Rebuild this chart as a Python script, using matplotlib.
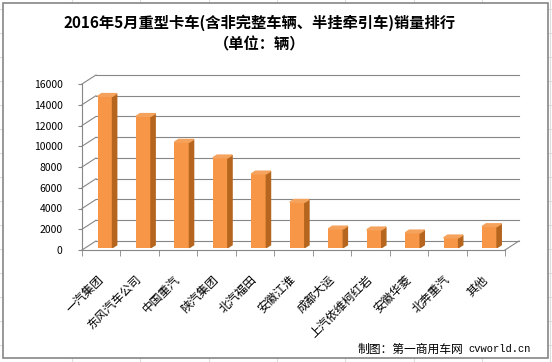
import matplotlib.pyplot as plt
from matplotlib.patches import Rectangle

plt.rcParams['font.family'] = ['Noto Sans CJK SC', 'DejaVu Sans']

companies = ['一汽集团', '东风汽车公司', '中国重汽', '陕汽集团', '北汽福田', '安徽江淮',
             '成都大运', '上汽依维柯红岩', '安徽华菱', '北奔重汽', '其他']
sales = [14580, 12650, 10160, 8650, 7100, 4370, 1800, 1710, 1420, 940, 2030]
yticks = list(range(0, 16001, 2000))

W, H = 552, 362
GRAY = '#868686'
FRONT, SIDE, TOP = '#F79646', '#B5651D', '#F5A25C'

fig = plt.figure(figsize=(W / 100, H / 100), dpi=100)

# background: spreadsheet cells + chart border
bg = fig.add_axes([0, 0, 1, 1])
bg.set_xlim(0, W)
bg.set_ylim(H, 0)
bg.axis('off')
for k in range(8):
    bg.axvline(72 + 68.3 * k, color='#dedede', lw=0.8, zorder=1)
for k in range(15):
    bg.axhline(9.3 + 24 * k, color='#dedede', lw=0.8, zorder=1)
bg.add_patch(Rectangle((2.5, 2.5), 545.5, 355, facecolor='white', edgecolor=GRAY,
                       lw=1.2, zorder=3))

bg.text(260, 23, '2016年5月重型卡车(含非完整车辆、半挂牵引车)销量排行',
        ha='center', va='center', fontsize=11, fontweight='bold', zorder=4)
bg.text(260, 44, '（单位：辆）', ha='center', va='center', fontsize=11,
        fontweight='bold', zorder=4)
bg.text(358, 349, '制图：第一商用车网', ha='left', va='center', fontsize=8.5, zorder=4)
bg.text(531, 349, 'cvworld.cn', ha='right', va='center', fontsize=7.5,
        family='Liberation Mono', zorder=4)

# main plot (front plane of the pseudo-3D box)
ax = fig.add_axes([82 / W, 1 - 250 / H, 423 / W, 166 / H])
ax.patch.set_visible(False)
ax.set_xlim(-0.5, 10.5)
ax.set_ylim(0, 16000)

DX, DY = 0.364, 870   # depth offset in data units
for v in yticks:
    ax.plot([-0.5 + DX, 10.5 + DX], [v + DY, v + DY], color=GRAY, lw=0.8, clip_on=False, zorder=1)
    ax.plot([-0.5, -0.5 + DX], [v, v + DY], color=GRAY, lw=0.8, clip_on=False, zorder=1)
ax.plot([10.5, 10.5 + DX], [0, DY], color=GRAY, lw=0.8, clip_on=False, zorder=1)

x = list(range(len(companies)))
bw = 0.39
t0, t1 = 0.27, 0.57
ox0, oy0 = t0 * DX, t0 * DY
ddx, ddy = (t1 - t0) * DX, (t1 - t0) * DY
ax.bar([i + ox0 for i in x], sales, width=bw, bottom=oy0, color=FRONT, zorder=3)
for i, v in zip(x, sales):
    xl = i + ox0 - bw / 2
    xr = xl + bw
    top = v + oy0
    ax.fill([xr, xr + ddx, xr + ddx, xr], [oy0, oy0 + ddy, top + ddy, top],
            color=SIDE, zorder=3, clip_on=False)
    ax.fill([xl, xr, xr + ddx, xl + ddx], [top, top, top + ddy, top + ddy],
            color=TOP, zorder=3, clip_on=False)

for s in ['top', 'right']:
    ax.spines[s].set_visible(False)
for s in ['left', 'bottom']:
    ax.spines[s].set_color(GRAY)
    ax.spines[s].set_linewidth(0.8)

ax.set_yticks(yticks)
ax.tick_params(axis='y', length=3, color=GRAY, pad=11, labelsize=7.5)
ax.set_xticks(x)
ax.set_xticklabels(companies, rotation=45, ha='right', va='center',
                   rotation_mode='anchor', fontsize=8.5)
ax.tick_params(axis='x', which='major', length=0, pad=20)
ax.set_xticks([i - 0.5 for i in range(len(companies) + 1)], minor=True)
ax.tick_params(axis='x', which='minor', length=4, color=GRAY)

fig.savefig('out.png', dpi=100)
